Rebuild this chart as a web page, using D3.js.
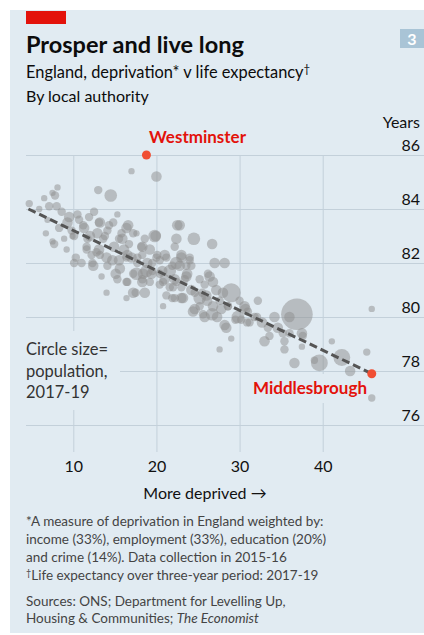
<!DOCTYPE html>
<html>
  <head>
    <script src="https://d3js.org/d3.v7.min.js"></script>
    <style>
      body {
        margin: 0;
        background: #fff;
      }
      text {
        font-family: Lato, "Noto Sans", sans-serif;
      }
      .grid line {
        stroke: #c3d0da;
        stroke-width: 1;
      }
      .grid path {
        display: none;
      }
      .grid text {
        fill: #111;
        font-size: 16px;
        font-family: Lato, "Noto Sans", sans-serif;
      }
    </style>
  </head>
  <body>
    <script>
      // Local authorities: deprivation score, life expectancy (years), population ('000)
      var deprivation = [
        4.7, 6.5, 7.5, 8.1, 7.8, 7.1, 8.0, 6.7, 7.5, 9.2, 9.9, 9.5, 10.7, 12.5, 13.1, 14.1, 16.4, 17.6, 15.5, 16.7,
        18.2, 11.6, 12.8, 14.0, 11.0, 12.3, 15.5, 8.3, 6.9, 5.9, 17.0, 13.0, 14.5, 20.0, 22.8, 19.9, 22.4, 24.5, 26.7, 15.8,
        21.2, 23.0, 24.0, 21.9, 27.0, 28.2, 19.5, 20.4, 10.1, 12.2, 13.4, 14.0, 15.3, 16.4, 16.4, 17.5, 18.6, 19.2, 20.4, 20.8,
        21.9, 23.0, 17.6, 18.8, 21.6, 22.4, 14.7, 16.4, 20.0, 23.7, 26.4, 23.0, 25.2, 27.2, 29.0, 24.6, 26.7, 29.8, 28.4, 29.0,
        27.6, 31.2, 33.0, 33.4, 34.2, 36.9, 37.5, 36.6, 36.0, 35.2, 45.9, 41.1, 45.3, 42.3, 39.6, 43.3, 45.9, 37.5, 39.0, 37.6,
        13.1, 10.3, 10.1, 7.7, 15.1, 18.3, 23.6, 22.0, 21.2, 25.2, 25.5,
        8.6, 9.3, 10.5, 11.3, 11.9, 12.9, 13.6, 14.3, 14.9, 11.7, 9.8, 8.9, 15.3, 16.1, 17.0, 17.7, 18.6, 19.2, 18.3, 19.4,
        20.4, 21.0, 21.6, 22.2, 23.4, 24.2, 25.8, 26.1, 27.6, 27.8, 28.6, 30.6, 31.0, 31.8, 32.7, 30.0, 32.2, 33.6, 34.6, 35.4,
        36.0, 35.4, 25.8, 30.2,
        13.2, 14.8, 16.6, 11.2, 12.0, 13.8, 15.9, 17.2, 18.3, 19.8, 20.1, 21.0, 18.9, 17.7, 16.5, 13.2, 11.6, 12.4, 14.1, 15.6,
        17.2, 18.4, 19.5, 20.7, 22.2, 22.5, 16.5, 18.3, 20.8, 17.2,
        23.0, 24.0, 22.8, 24.2, 23.6, 26.2, 26.8, 22.4, 28.0, 24.6, 26.0, 22.2, 23.2, 25.2, 26.8, 28.6, 30.7, 32.1, 24.4, 25.6,
        27.3, 29.5, 28.2, 30.9
      ];
      var lifeExpectancy = [
        84.2, 84.4, 84.6, 84.8, 84.5, 84.1, 84.1, 83.1, 82.8, 82.5, 83.0, 83.7, 83.6, 83.9, 83.5, 83.2, 83.3, 83.1, 82.9, 82.7,
        82.6, 82.6, 82.4, 82.2, 82.0, 82.0, 82.1, 83.3, 83.6, 84.0, 85.4, 84.7, 84.5, 85.2, 83.4, 83.0, 82.9, 82.9, 82.7, 83.1,
        82.2, 82.2, 82.1, 81.9, 82.0, 82.0, 82.0, 82.1, 82.0, 82.3, 81.5, 80.9, 81.4, 81.3, 80.7, 80.9, 80.9, 81.3, 81.2, 80.4,
        80.7, 80.7, 81.6, 81.7, 81.7, 82.0, 82.1, 82.2, 82.2, 81.6, 81.5, 81.1, 80.7, 81.0, 80.9, 80.3, 80.1, 80.0, 79.6, 79.2,
        78.8, 79.8, 79.1, 79.6, 80.0, 80.1, 79.4, 78.3, 79.4, 79.4, 80.3, 79.1, 78.7, 78.5, 78.3, 78.0, 77.0, 78.9, 78.4, 79.3,
        82.5, 82.2, 83.0, 82.7, 81.6, 82.3, 81.9, 81.1, 80.8, 81.4, 80.9,
        83.9, 83.5, 83.8, 83.3, 83.7, 83.1, 82.9, 83.4, 82.6, 82.9, 83.2, 82.9, 83.8, 82.5, 82.2, 82.0, 82.9, 82.5, 81.4, 81.6,
        81.6, 81.4, 81.1, 81.4, 81.4, 81.0, 81.2, 80.6, 80.6, 80.3, 80.4, 80.4, 80.2, 80.0, 79.8, 80.6, 80.6, 79.3, 79.6, 79.1,
        80.0, 78.8, 80.0, 79.9,
        83.5, 83.5, 83.4, 83.4, 83.0, 83.0, 82.9, 83.1, 82.6, 83.0, 82.3, 82.3, 82.0, 82.2, 82.3, 82.3, 82.5, 81.9, 81.9, 81.8,
        81.6, 81.6, 81.7, 81.7, 82.6, 83.4, 81.3, 81.3, 81.3, 80.9,
        82.3, 82.2, 81.9, 81.9, 81.5, 81.6, 81.3, 81.3, 80.9, 80.9, 80.8, 80.7, 80.7, 80.4, 80.4, 80.4, 80.3, 80.0, 80.2, 80.1,
        80.0, 79.9, 79.7, 79.8
      ];
      var population = [
        62, 46, 46, 46, 81, 81, 81, 46, 46, 46, 46, 127, 81, 81, 81, 81, 127, 46, 81, 81,
        81, 81, 81, 127, 81, 81, 127, 81, 46, 46, 46, 81, 182, 127, 127, 127, 127, 182, 127, 81,
        81, 127, 81, 81, 127, 127, 81, 81, 81, 81, 46, 46, 81, 81, 46, 81, 127, 81, 81, 46,
        81, 127, 182, 182, 182, 182, 127, 81, 81, 127, 127, 81, 182, 127, 410, 127, 182, 182, 127, 46,
        46, 81, 127, 81, 127, 1140, 127, 127, 81, 81, 46, 46, 62, 324, 324, 127, 62, 46, 62, 81,
        127, 81, 81, 81, 127, 81, 81, 81, 81, 81, 81,
        81, 127, 81, 127, 81, 127, 81, 81, 127, 81, 81, 46, 46, 127, 127, 81, 81, 127, 81, 127,
        81, 127, 81, 127, 81, 127, 81, 127, 81, 127, 81, 127, 81, 81, 127, 81, 81, 81, 127, 81,
        127, 81, 127, 81,
        127, 81, 127, 81, 127, 81, 127, 81, 127, 182, 81, 127, 127, 81, 127, 81, 81, 127, 81, 127,
        81, 127, 81, 127, 81, 127, 81, 127, 81, 127,
        127, 81, 127, 81, 127, 81, 127, 81, 127, 81, 127, 81, 127, 81, 127, 81, 127, 81, 127, 81,
        127, 81, 127, 81
      ];

      // Highlighted authorities
      var highlightNames = ["Westminster", "Middlesbrough"];
      var highlightDeprivation = [18.8, 45.9];
      var highlightLife = [86.0, 77.9];

      // Trend line end points
      var trendDeprivation = [4.6, 45.9];
      var trendLife = [84.0, 77.9];

      var xTicks = [10, 20, 30, 40];
      var yTicks = [76, 78, 80, 82, 84, 86];

      var width = 424, height = 635;
      var bg = "#e1ebf2";

      var svg = d3.select("body").append("svg")
        .attr("width", width)
        .attr("height", height);

      // Panel, red tag and chart number
      svg.append("rect").attr("x", 10).attr("y", 10).attr("width", 414).attr("height", 623).attr("fill", bg);
      svg.append("rect").attr("x", 26).attr("y", 11).attr("width", 40).attr("height", 13).attr("fill", "#e3120b");
      svg.append("rect").attr("x", 400).attr("y", 29).attr("width", 24).attr("height", 19).attr("fill", "#a9c4d6");
      svg.append("text").attr("x", 412).attr("y", 44.5)
        .attr("text-anchor", "middle").attr("fill", "#fff")
        .style("font-size", "16px").style("font-weight", "bold").text("3");

      // Titles
      svg.append("text").attr("x", 26).attr("y", 53)
        .style("font-size", "23.5px").style("font-weight", "bold").attr("fill", "#0c0c0c")
        .text("Prosper and live long");
      var sub = svg.append("text").attr("x", 26).attr("y", 78)
        .style("font-size", "16.4px").attr("fill", "#0c0c0c");
      sub.append("tspan").text("England, deprivation* v life expectancy");
      sub.append("tspan").attr("dy", -5).style("font-size", "11.5px").text("\u2020");
      svg.append("text").attr("x", 26).attr("y", 102)
        .style("font-size", "16px").attr("fill", "#0c0c0c")
        .text("By local authority");

      // Scales
      var x = d3.scaleLinear().domain([10, 40]).range([73.3, 322.7]);
      var y = d3.scaleLinear().domain([76, 86]).range([425, 155]);
      var r = d3.scaleSqrt().domain([0, 1140]).range([0, 15.8]);

      // Vertical grid + x labels
      var xAxis = svg.append("g")
        .attr("class", "grid")
        .attr("transform", "translate(0,452)")
        .call(d3.axisBottom(x).tickValues(xTicks).tickSize(-(452 - y(86))).tickPadding(9));
      xAxis.selectAll("text").attr("fill", "#111");

      // Horizontal grid + y labels (right, above the lines)
      var yAxis = svg.append("g")
        .attr("class", "grid")
        .attr("transform", "translate(26,0)")
        .call(d3.axisRight(y).tickValues(yTicks).tickSize(width - 26));
      yAxis.selectAll("text")
        .attr("x", 394)
        .attr("dy", null)
        .attr("y", -4.5)
        .style("text-anchor", "end");

      svg.append("text").attr("x", 420).attr("y", 128)
        .attr("text-anchor", "end").style("font-size", "16px").attr("fill", "#111")
        .text("Years");

      svg.append("text").attr("x", 205).attr("y", 499)
        .attr("text-anchor", "middle").style("font-size", "16px").attr("fill", "#111")
        .text("More deprived \u2192");

      // Label backgrounds that cut the gridlines
      svg.append("rect").attr("x", 20).attr("y", 331).attr("width", 100).attr("height", 79).attr("fill", bg);
      svg.append("rect").attr("x", 250).attr("y", 374).attr("width", 120).attr("height", 29).attr("fill", bg);

      // Circles
      var points = deprivation.map(function(d, i) {
        return { dep: d, life: lifeExpectancy[i], pop: population[i] };
      });
      points.sort(function(a, b) { return b.pop - a.pop; });

      svg.append("g").selectAll("circle")
        .data(points)
        .enter().append("circle")
        .attr("cx", function(d) { return x(d.dep); })
        .attr("cy", function(d) { return y(d.life); })
        .attr("r", function(d) { return r(d.pop); })
        .attr("fill", "#8e8e8e")
        .attr("fill-opacity", 0.5);

      // Trend line
      var line = d3.line()
        .x(function(d) { return x(d[0]); })
        .y(function(d) { return y(d[1]); });
      svg.append("path")
        .datum(d3.zip(trendDeprivation, trendLife))
        .attr("d", line)
        .attr("fill", "none")
        .attr("stroke", "#555")
        .attr("stroke-width", 3)
        .attr("stroke-dasharray", "8,4");

      // Highlighted points
      svg.append("g").selectAll("circle")
        .data(d3.zip(highlightDeprivation, highlightLife))
        .enter().append("circle")
        .attr("cx", function(d) { return x(d[0]); })
        .attr("cy", function(d) { return y(d[1]); })
        .attr("r", 4.5)
        .attr("fill", "#f04e33");

      svg.append("text").attr("x", 149).attr("y", 143)
        .style("font-size", "17px").style("font-weight", "bold").attr("fill", "#e3120b")
        .text(highlightNames[0]);
      svg.append("text").attr("x", 367).attr("y", 394)
        .attr("text-anchor", "end")
        .style("font-size", "17px").style("font-weight", "bold").attr("fill", "#e3120b")
        .text(highlightNames[1]);

      // Circle size note
      var note = svg.append("text").attr("x", 26).attr("y", 355)
        .style("font-size", "16.5px").attr("fill", "#333");
      ["Circle size=", "population,", "2017-19"].forEach(function(t, i) {
        note.append("tspan").attr("x", 26).attr("dy", i ? 21.5 : 0).text(t);
      });

      // Footnotes
      var foot = svg.append("g").style("font-size", "13.5px").attr("fill", "#444");
      foot.append("text").attr("x", 26).attr("y", 526)
        .text("*A measure of deprivation in England weighted by:");
      foot.append("text").attr("x", 26).attr("y", 544)
        .text("income (33%), employment (33%), education (20%)");
      foot.append("text").attr("x", 26).attr("y", 562)
        .text("and crime (14%). Data collection in 2015-16");
      var dag = foot.append("text").attr("x", 26).attr("y", 580);
      dag.append("tspan").attr("dy", -4).style("font-size", "9px").text("\u2020");
      dag.append("tspan").attr("dy", 4).text("Life expectancy over three-year period: 2017-19");
      foot.append("text").attr("x", 26).attr("y", 606)
        .text("Sources: ONS; Department for Levelling Up,");
      var src = foot.append("text").attr("x", 26).attr("y", 623);
      src.append("tspan").text("Housing & Communities; ");
      src.append("tspan").style("font-style", "italic").text("The Economist");
    </script>
  </body>
</html>
